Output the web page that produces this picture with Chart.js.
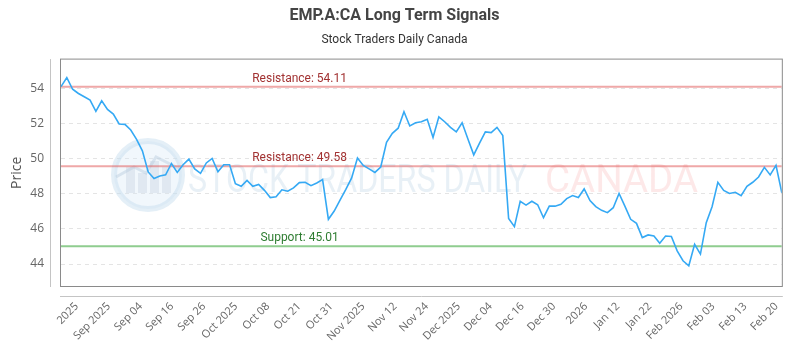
<!DOCTYPE html>
<html>
<head>
<meta charset="utf-8">
<title>EMP.A:CA Long Term Signals</title>
<script src="https://cdn.jsdelivr.net/npm/chart.js@4.4.0/dist/chart.umd.min.js"></script>
<style>
  body { margin: 0; background: #fff; }
</style>
</head>
<body>
<canvas id="signalChart" width="800" height="350"></canvas>
<script>
// daily closes
const prices = [
  54.11, 54.62, 53.96, 53.72, 53.53, 53.34, 52.70, 53.30, 52.81, 52.55,
  51.98, 51.96, 51.64, 51.11, 50.45, 49.25, 48.88, 49.02, 49.08, 49.73,
  49.22, 49.66, 49.98, 49.42, 49.17, 49.76, 50.02, 49.26, 49.66, 49.66,
  48.58, 48.43, 48.77, 48.43, 48.54, 48.20, 47.79, 47.83, 48.23, 48.15,
  48.34, 48.64, 48.66, 48.47, 48.62, 48.81, 46.55, 47.02, 47.64, 48.25,
  48.91, 50.04, 49.62, 49.42, 49.22, 49.53, 50.94, 51.45, 51.74, 52.68,
  51.87, 52.05, 52.11, 52.25, 51.21, 52.39, 52.11, 51.79, 51.53, 52.05,
  51.13, 50.22, 50.89, 51.53, 51.49, 51.79, 51.32, 46.60, 46.13, 47.58,
  47.36, 47.58, 47.38, 46.64, 47.30, 47.30, 47.41, 47.73, 47.90, 47.79,
  48.28, 47.62, 47.27, 47.06, 46.93, 47.21, 48.02, 47.30, 46.55, 46.32,
  45.51, 45.66, 45.60, 45.19, 45.60, 45.57, 44.75, 44.19, 43.90, 45.13,
  44.57, 46.36, 47.27, 48.66, 48.20, 48.02, 48.09, 47.90, 48.43, 48.66,
  48.96, 49.51, 49.08, 49.62, 48.06
];

const tickLabels = [
  '2025', 'Sep 2025', 'Sep 04', 'Sep 16', 'Sep 26', 'Oct 2025', 'Oct 08', 'Oct 21',
  'Oct 31', 'Nov 2025', 'Nov 12', 'Nov 24', 'Dec 2025', 'Dec 04', 'Dec 16', 'Dec 30',
  '2026', 'Jan 12', 'Jan 22', 'Feb 2026', 'Feb 03', 'Feb 13', 'Feb 20'
];
// where each label sits, in data-point units
const tickPos = [
  2.7, 8.2, 13.7, 19.1, 24.6, 30.1, 35.6, 41.0, 46.5, 52.0, 57.5, 62.9,
  68.4, 73.9, 79.4, 84.8, 90.3, 95.8, 101.3, 106.7, 112.2, 117.7, 123.1
];

const yTicks = [44, 46, 48, 50, 52, 54];
const yMin = 42.75;
const yMax = 55.65;

const levels = [
  { name: 'Resistance', value: 54.11, line: 'rgba(226,96,96,0.55)', text: '#a23232' },
  { name: 'Resistance', value: 49.58, line: 'rgba(226,96,96,0.55)', text: '#a23232' },
  { name: 'Support', value: 45.01, line: 'rgba(96,184,96,0.7)', text: '#2f7d32' }
];

const lastIdx = prices.length - 1;

// watermark, level labels and the frame lines
const decorations = {
  id: 'decorations',
  beforeDatasetsDraw(chart) {
    const ctx = chart.ctx;
    ctx.save();
    // round logo
    const cx = 148, cy = 175;
    ctx.beginPath();
    ctx.arc(cx, cy, 34, 0, Math.PI * 2);
    ctx.fillStyle = 'rgba(214,232,245,0.35)';
    ctx.fill();
    ctx.lineWidth = 6;
    ctx.strokeStyle = 'rgba(196,220,238,0.45)';
    ctx.stroke();
    ctx.fillStyle = 'rgba(185,200,215,0.3)';
    [[-22, 14], [-10, 20], [2, 8], [14, 14]].forEach(b => {
      ctx.fillRect(cx + b[0], cy - 8 + b[1] - 14, 9, 40 - b[1]);
    });
    ctx.beginPath();
    ctx.moveTo(cx - 32, cy + 2);
    ctx.lineTo(cx - 14, cy - 8);
    ctx.lineTo(cx - 2, cy - 2);
    ctx.lineTo(cx + 8, cy - 18);
    ctx.lineTo(cx + 32, cy - 6);
    ctx.lineWidth = 3;
    ctx.strokeStyle = 'rgba(185,205,222,0.45)';
    ctx.stroke();

    // words, squeezed to the width they take in the picture
    ctx.font = '38px Roboto';
    ctx.textBaseline = 'alphabetic';
    const words = [
      { t: 'STOCK TRADERS DAILY', x: 188, w: 339, c: 'rgba(190,212,230,0.35)' },
      { t: 'CANADA', x: 545, w: 153, c: 'rgba(245,150,150,0.22)' }
    ];
    words.forEach(wd => {
      const m = ctx.measureText(wd.t).width;
      ctx.save();
      ctx.translate(wd.x, 192);
      ctx.scale(wd.w / m, 1);
      ctx.fillStyle = wd.c;
      ctx.fillText(wd.t, 0, 0);
      ctx.restore();
    });
    ctx.restore();
  },
  afterDatasetsDraw(chart) {
    const { ctx, chartArea: a, scales } = chart;
    ctx.save();
    ctx.font = '12px Roboto';
    ctx.textAlign = 'center';
    ctx.textBaseline = 'alphabetic';
    const lx = a.left + (a.right - a.left) * 0.331;
    levels.forEach(l => {
      ctx.fillStyle = l.text;
      ctx.fillText(l.name + ': ' + l.value.toFixed(2), lx, scales.y.getPixelForValue(l.value) - 5);
    });
    ctx.restore();
  },
  afterDraw(chart) {
    const { ctx, chartArea: a } = chart;
    ctx.save();
    ctx.lineWidth = 1;
    ctx.strokeStyle = '#8a8a8a';
    ctx.strokeRect(a.left - 0.5, a.top - 0.5, a.right - a.left + 1, a.bottom - a.top + 1);
    ctx.strokeStyle = '#c4c4c4';
    ctx.beginPath();
    ctx.moveTo(a.left - 10.5, a.top - 0.5);
    ctx.lineTo(a.left - 10.5, a.bottom + 1);
    ctx.moveTo(a.left - 1, a.bottom + 10.5);
    ctx.lineTo(a.right + 1, a.bottom + 10.5);
    ctx.stroke();
    ctx.restore();
  }
};

const datasets = [{
  data: prices.map((p, i) => ({ x: i, y: p })),
  borderColor: '#35a9f4',
  borderWidth: 1.6,
  pointRadius: 0,
  tension: 0
}];
levels.forEach(l => {
  datasets.push({
    data: [{ x: 0, y: l.value }, { x: lastIdx, y: l.value }],
    borderColor: l.line,
    borderWidth: 2,
    pointRadius: 0
  });
});

const ctx = document.getElementById('signalChart').getContext('2d');
const signalChart = new Chart(ctx, {
  type: 'line',
  data: { datasets: datasets },
  options: {
    responsive: false,
    animation: false,
    layout: { padding: { left: 0, right: 11, top: 0, bottom: 0 } },
    plugins: {
      legend: { display: false },
      tooltip: { enabled: false },
      title: {
        display: true,
        text: 'EMP.A:CA Long Term Signals',
        color: '#444',
        font: { family: 'Roboto', size: 16, weight: 'bold' },
        padding: { top: 6, bottom: 4 }
      },
      subtitle: {
        display: true,
        text: 'Stock Traders Daily Canada',
        color: '#333',
        font: { family: 'Roboto', size: 12 },
        padding: { top: 4, bottom: 12 }
      }
    },
    scales: {
      x: {
        type: 'linear',
        min: 0,
        max: lastIdx,
        afterBuildTicks: s => { s.ticks = tickPos.map(v => ({ value: v })); },
        afterFit: s => { s.height = 64; },
        grid: { display: false, drawTicks: false },
        border: { display: false },
        ticks: {
          autoSkip: false,
          minRotation: 45,
          maxRotation: 45,
          padding: 14,
          color: '#666',
          font: { family: 'Open Sans', size: 11 },
          callback: (v, i) => tickLabels[i]
        }
      },
      y: {
        min: yMin,
        max: yMax,
        afterBuildTicks: s => { s.ticks = yTicks.map(v => ({ value: v })); },
        afterFit: s => { s.width = 61; },
        grid: { color: '#e4e4e4', drawTicks: false },
        border: { display: false, dash: [4, 4] },
        ticks: {
          padding: 17,
          color: '#666',
          font: { family: 'Open Sans', size: 12 }
        },
        title: {
          display: true,
          text: 'Price',
          color: '#555',
          font: { family: 'Open Sans', size: 14 },
          padding: { top: 9, bottom: 0 }
        }
      }
    }
  },
  plugins: [decorations]
});
</script>
</body>
</html>
